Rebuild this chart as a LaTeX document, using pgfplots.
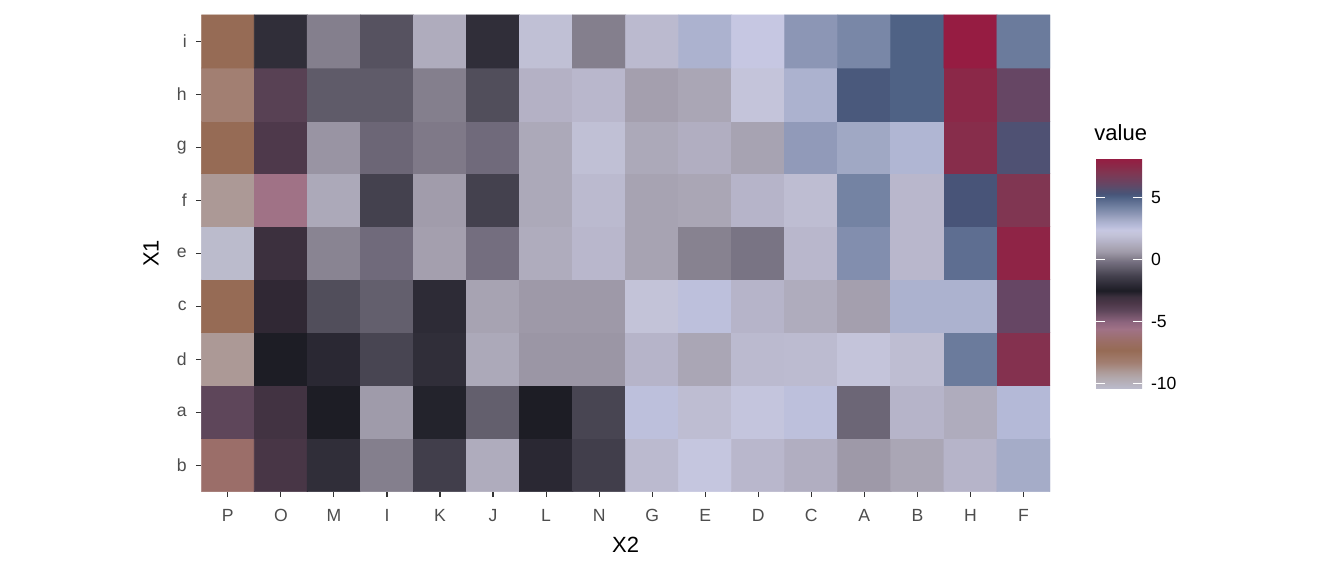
\documentclass[border=0pt]{standalone}
\usepackage{fontspec}
\setmainfont{Liberation Sans}
\usepackage{pgfplots}
\pgfplotsset{compat=1.18}

\definecolor{tickgray}{HTML}{333333}
\definecolor{labelgray}{HTML}{4D4D4D}

\pgfplotsset{
  colormap={heat}{
    rgb255(-10.38)=(187,187,204)
    rgb255(-9.5)=(178,168,172)
    rgb255(-9.0)=(172,153,150)
    rgb255(-8.3)=(162,127,114)
    rgb255(-7.3)=(150,107,85)
    rgb255(-6.5)=(155,110,105)
    rgb255(-5.6)=(160,114,134)
    rgb255(-5.0)=(140,100,125)
    rgb255(-4.1)=(94,70,90)
    rgb255(-3.5)=(75,55,72)
    rgb255(-3.0)=(60,48,62)
    rgb255(-2.5)=(29,29,37)
    rgb255(-2.0)=(45,43,54)
    rgb255(-1.3)=(68,65,78)
    rgb255(-0.7)=(95,91,105)
    rgb255(-0.2)=(116,110,127)
    rgb255(0.1)=(132,127,141)
    rgb255(0.6)=(158,153,168)
    rgb255(1.0)=(170,166,181)
    rgb255(1.5)=(182,180,201)
    rgb255(2.0)=(195,195,216)
    rgb255(2.4)=(198,199,226)
    rgb255(2.8)=(180,185,215)
    rgb255(3.2)=(165,172,200)
    rgb255(3.7)=(140,150,181)
    rgb255(4.2)=(116,131,163)
    rgb255(4.7)=(94,110,145)
    rgb255(5.0)=(79,98,133)
    rgb255(5.3)=(72,84,120)
    rgb255(5.6)=(82,80,112)
    rgb255(6.1)=(102,70,100)
    rgb255(7.0)=(128,54,82)
    rgb255(7.6)=(139,40,72)
    rgb255(8.15)=(150,28,66)
  }
}

% rows: b a d c e f g h i (y = 0..8), columns P O M I K J L N G E D C A B H F (x = 0..15)
\pgfplotstableread[row sep=\\]{
x y v\\
0 0 -6.5\\ 1 0 -3.4\\ 2 0 -1.9\\ 3 0 0.1\\ 4 0 -1.4\\ 5 0 1.2\\ 6 0 -2.1\\ 7 0 -1.4\\ 8 0 1.7\\ 9 0 2.3\\ 10 0 1.6\\ 11 0 1.3\\ 12 0 0.6\\ 13 0 1.0\\ 14 0 1.5\\ 15 0 3.2\\
0 1 -4.1\\ 1 1 -3.2\\ 2 1 -2.5\\ 3 1 0.65\\ 4 1 -2.3\\ 5 1 -0.6\\ 6 1 -2.5\\ 7 1 -1.2\\ 8 1 2.6\\ 9 1 1.8\\ 10 1 2.2\\ 11 1 2.6\\ 12 1 -0.4\\ 13 1 1.5\\ 14 1 1.2\\ 15 1 2.8\\
0 2 -9.0\\ 1 2 -2.5\\ 2 2 -2.1\\ 3 2 -1.2\\ 4 2 -1.9\\ 5 2 1.1\\ 6 2 0.55\\ 7 2 0.55\\ 8 2 1.5\\ 9 2 1.0\\ 10 2 1.7\\ 11 2 1.75\\ 12 2 2.1\\ 13 2 1.8\\ 14 2 4.4\\ 15 2 7.2\\
0 3 -7.3\\ 1 3 -2.8\\ 2 3 -1.0\\ 3 3 -0.6\\ 4 3 -2.0\\ 5 3 0.9\\ 6 3 0.6\\ 7 3 0.6\\ 8 3 2.0\\ 9 3 2.6\\ 10 3 1.5\\ 11 3 1.2\\ 12 3 0.8\\ 13 3 3.0\\ 14 3 3.0\\ 15 3 6.1\\
0 4 -10.38\\ 1 4 -3.0\\ 2 4 0.2\\ 3 4 -0.3\\ 4 4 0.8\\ 5 4 -0.2\\ 6 4 1.2\\ 7 4 1.6\\ 8 4 0.9\\ 9 4 0.15\\ 10 4 -0.1\\ 11 4 1.6\\ 12 4 3.9\\ 13 4 1.6\\ 14 4 4.7\\ 15 4 7.8\\
0 5 -9.0\\ 1 5 -5.6\\ 2 5 1.1\\ 3 5 -1.3\\ 4 5 0.7\\ 5 5 -1.3\\ 6 5 1.1\\ 7 5 1.7\\ 8 5 0.9\\ 9 5 1.0\\ 10 5 1.5\\ 11 5 1.8\\ 12 5 4.2\\ 13 5 1.6\\ 14 5 5.3\\ 15 5 7.0\\
0 6 -7.3\\ 1 6 -3.6\\ 2 6 0.5\\ 3 6 -0.4\\ 4 6 0.0\\ 5 6 -0.3\\ 6 6 1.1\\ 7 6 1.9\\ 8 6 1.1\\ 9 6 1.3\\ 10 6 0.9\\ 11 6 3.6\\ 12 6 3.3\\ 13 6 2.9\\ 14 6 7.4\\ 15 6 5.5\\
0 7 -8.3\\ 1 7 -3.9\\ 2 7 -0.7\\ 3 7 -0.7\\ 4 7 0.1\\ 5 7 -1.0\\ 6 7 1.4\\ 7 7 1.6\\ 8 7 0.8\\ 9 7 1.0\\ 10 7 2.1\\ 11 7 3.0\\ 12 7 5.2\\ 13 7 5.0\\ 14 7 7.6\\ 15 7 6.1\\
0 8 -7.3\\ 1 8 -1.9\\ 2 8 0.1\\ 3 8 -0.9\\ 4 8 1.2\\ 5 8 -1.9\\ 6 8 1.9\\ 7 8 0.1\\ 8 8 1.7\\ 9 8 3.0\\ 10 8 2.4\\ 11 8 3.7\\ 12 8 4.1\\ 13 8 5.0\\ 14 8 8.15\\ 15 8 4.4\\
}\heatdata

\begin{document}
\begin{tikzpicture}
\path[use as bounding box] (0,0) rectangle (672pt,288pt);
\begin{axis}[
    at={(100.65pt,42.15pt)}, anchor=south west,
    scale only axis,
    width=424.35pt, height=238.35pt,
    xmin=-0.5, xmax=15.5, ymin=-0.5, ymax=8.5,
    enlargelimits=false,
    axis line style={draw=none},
    xtick={0,...,15},
    xticklabels={P,O,M,I,K,J,L,N,G,E,D,C,A,B,H,F},
    ytick={0,...,8},
    yticklabels={b,a,d,c,e,f,g,h,i},
    tick align=outside,
    tick pos=left,
    major tick length=2.75pt,
    tick style={tickgray, line width=0.55pt},
    ticklabel style={font=\fontsize{8.8}{10}\selectfont, text=labelgray},
    xticklabel style={yshift=-2.5pt},
    yticklabel style={xshift=-1pt},
    xlabel={X2}, ylabel={X1},
    xlabel style={at={(axis description cs:0.5,0)}, anchor=center, yshift=-26.65pt, font=\fontsize{11}{13}\selectfont},
    ylabel style={at={(axis description cs:0,0.5)}, anchor=center, rotate=0, yshift=25.15pt, font=\fontsize{11}{13}\selectfont},
    colormap name=heat,
    point meta min=-10.38, point meta max=8.15,
    colorbar,
    colorbar/width=23pt,
    colorbar style={
        at={(1.0542,0.2167)}, anchor=south west,
        scale only axis,
        width=23pt, height=115pt,
        axis line style={draw=none},
        ytick={-10,-5,0,5},
        yticklabels={-10,-5,0,5},
        yticklabel pos=right,
        ytick pos=both,
        tick align=inside,
        major tick length=4.6pt,
        ytick style={white, line width=0.5pt},
        yticklabel style={font=\fontsize{8.8}{10}\selectfont, text=black, xshift=1pt},
    },
]
\addplot[matrix plot*, mesh/cols=16, point meta=explicit] table[x=x, y=y, meta=v] {\heatdata};
\end{axis}
\node[anchor=base west, inner sep=0pt, font=\fontsize{11}{13}\selectfont] at (547pt,217.7pt) {value};
\end{tikzpicture}
\end{document}
